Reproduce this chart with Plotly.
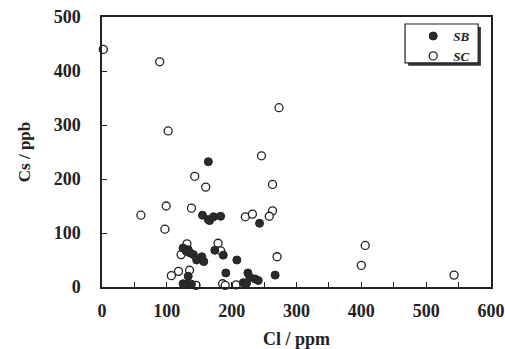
import plotly.graph_objects as go

# SB (filled circles): Cl (ppm), Cs (ppb)
sb_cl = [164, 155, 164, 172, 183, 166, 243, 125, 133, 141, 146, 154, 157, 136, 130,
         174, 187, 208, 133, 191, 225, 228, 236, 241, 267, 125, 131, 138, 218, 223]
sb_cs = [232, 133, 125, 130, 131, 123, 118, 72, 69, 60, 50, 56, 47, 63, 66,
         68, 59, 50, 20, 26, 26, 18, 15, 12, 22, 6, 5, 5, 8, 7]

# SC (open circles)
sc_cl = [2, 89, 102, 273, 246, 143, 263, 160, 99, 138, 60, 221, 232, 263, 258,
         97, 131, 122, 179, 183, 270, 135, 118, 107, 145, 186, 190, 207, 406, 400, 543]
sc_cs = [440, 417, 289, 332, 243, 205, 190, 185, 150, 146, 133, 130, 135, 141, 131,
         107, 80, 60, 81, 67, 56, 31, 29, 21, 3, 6, 3, 4, 77, 40, 22]

x_ticks = [0, 100, 200, 300, 400, 500, 600]
y_ticks = [0, 100, 200, 300, 400, 500]

FONT = "Liberation Serif, Times New Roman, serif"
INK = "#222"

fig = go.Figure()
fig.add_trace(go.Scatter(
    x=sc_cl, y=sc_cs, mode="markers", name="<b><i>SC</i></b>",
    marker=dict(symbol="circle", size=8, color="white",
                line=dict(color=INK, width=1.3)),
    showlegend=False, cliponaxis=False))
fig.add_trace(go.Scatter(
    x=sb_cl, y=sb_cs, mode="markers", name="<b><i>SB</i></b>",
    marker=dict(symbol="circle", size=8, color="#2b2b2b",
                line=dict(color=INK, width=1)),
    cliponaxis=False))
fig.add_trace(go.Scatter(
    x=[None], y=[None], mode="markers", name="<b><i>SC</i></b>",
    marker=dict(symbol="circle", size=8, color="white",
                line=dict(color=INK, width=1.3))))

fig.update_layout(
    width=505, height=349,
    margin=dict(l=102, r=14, t=17, b=62),
    paper_bgcolor="white", plot_bgcolor="white",
    font=dict(family=FONT, size=15, color=INK),
    showlegend=True,
    legend=dict(x=0.80, y=0.985, xanchor="left", yanchor="top",
                bgcolor="rgba(0,0,0,0)", borderwidth=0,
                font=dict(family=FONT, size=13, color=INK),
                itemwidth=30, tracegroupgap=0, traceorder="normal"),
    shapes=[
        dict(type="rect", xref="paper", yref="paper",
             x0=0.787, x1=0.974, y0=0.819, y1=0.963,
             fillcolor="#333", line=dict(width=0), layer="above"),
        dict(type="rect", xref="paper", yref="paper",
             x0=0.779, x1=0.967, y0=0.830, y1=0.974,
             fillcolor="white", line=dict(color=INK, width=1.2), layer="above"),
    ],
)

fig.update_xaxes(
    automargin=False, ticklabeloverflow="allow",
    range=[0, 600], tickvals=x_ticks, ticktext=[f"<b>{v}</b>" for v in x_ticks],
    ticks="inside", ticklen=5, tickwidth=1.2, tickcolor=INK,
    minor=dict(dtick=50, tick0=0, ticks="inside", ticklen=5, tickwidth=1.2, tickcolor=INK),
    showline=True, linecolor=INK, linewidth=1.5, mirror=True,
    showgrid=False, zeroline=False,
    ticklabelstandoff=7,
    tickfont=dict(family=FONT, size=18, color=INK),
    title=dict(text="<b>Cl / ppm</b>", font=dict(family=FONT, size=18, color=INK), standoff=19),
)
fig.update_yaxes(
    automargin=False, ticklabeloverflow="allow",
    range=[0, 500], tickvals=y_ticks, ticktext=[f"<b>{v}</b>" for v in y_ticks],
    ticks="inside", ticklen=5, tickwidth=1.2, tickcolor=INK,
    showline=True, linecolor=INK, linewidth=1.5, mirror=True,
    showgrid=False, zeroline=False,
    ticklabelstandoff=16,
    tickfont=dict(family=FONT, size=18, color=INK),
    title=dict(text="<b>Cs / ppb</b>", font=dict(family=FONT, size=17, color=INK), standoff=19),
)

fig.write_html("out.html",
               config={"displayModeBar": False},
               post_script="document.body.style.margin='0';document.body.style.overflow='hidden';")
